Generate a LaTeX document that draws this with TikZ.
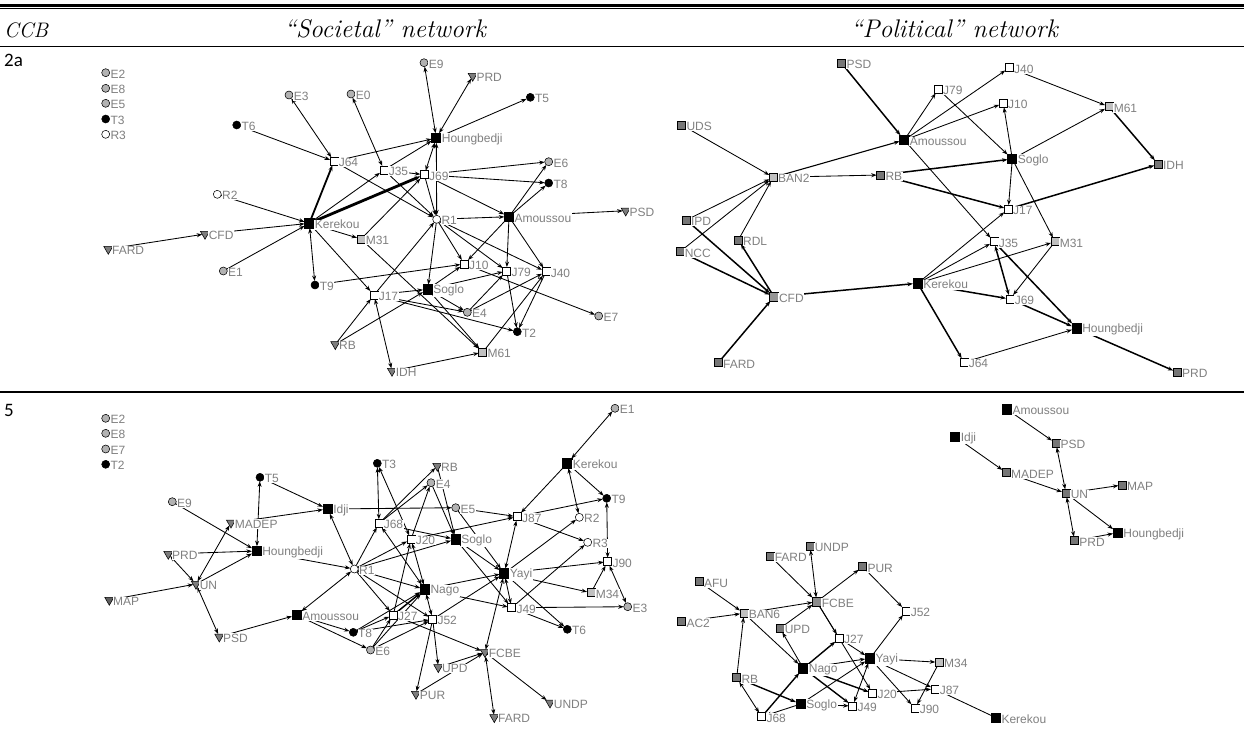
\documentclass[tikz,border=0pt]{standalone}
\usepackage{fontspec}
\newfontfamily\lblfont{Liberation Sans}
\newfontfamily\numfont{Carlito}
\usetikzlibrary{shapes.geometric,arrows.meta}
\pgfdeclarelayer{bg}
\pgfsetlayers{bg,main}
\definecolor{lblgray}{RGB}{128,128,128}
\definecolor{cgray}{RGB}{178,178,178}
\definecolor{tgray}{RGB}{125,125,125}
\definecolor{tdark}{RGB}{95,95,95}
\definecolor{dgray}{RGB}{118,118,118}
\definecolor{lgray}{RGB}{192,192,192}
\definecolor{mgray}{RGB}{150,150,150}
\tikzset{
 lbl/.style={text=lblgray, fill=white, font=\lblfont\fontsize{12}{12}\selectfont, inner sep=0.6pt, yshift=-1.3pt},
 L/.style={label={[lbl]0:#1}},
 nd/.style={draw=black, line width=0.55pt, inner sep=0pt, outer sep=0pt},
 wsq/.style={nd, rectangle, minimum size=8pt, fill=white},
 bsq/.style={nd, rectangle, minimum size=9.5pt, fill=black},
 lsq/.style={nd, rectangle, minimum size=8pt, fill=lgray},
 dsq/.style={nd, rectangle, minimum size=8pt, fill=dgray},
 msq/.style={nd, rectangle, minimum size=8.5pt, fill=mgray},
 gci/.style={nd, circle, minimum size=8pt, fill=cgray},
 bci/.style={nd, circle, minimum size=8pt, fill=black},
 wci/.style={nd, circle, minimum size=8pt, fill=white},
 tri/.style={nd, regular polygon, regular polygon sides=3, shape border rotate=180, minimum size=10.5pt, fill=tgray},
 e/.style={line width=0.85pt, -{Stealth[length=5.5pt,width=4pt]}},
 ee/.style={line width=0.85pt, {Stealth[length=5.5pt,width=4pt]}-{Stealth[length=5.5pt,width=4pt]}},
 pl/.style={line width=0.85pt},
 hdr/.style={inner sep=0pt, anchor=base east, font=\itshape\fontsize{25.5}{30}\selectfont},
 num/.style={inner sep=0pt, anchor=base west, font=\numfont\fontsize{19}{22}\selectfont},
}
\begin{document}
\begin{tikzpicture}[x=1pt,y=-1pt]
\useasboundingbox (0,0) rectangle (1244,737);
\begin{pgfonlayer}{bg}
\fill[white] (0,0) rectangle (1244,737);
\end{pgfonlayer}
% table rules
\fill[black] (0,3.8) rectangle (1244,6.6);
\draw[line width=1.1pt] (0,8.3) -- (1244,8.3);
\draw[line width=1.2pt] (0,46.5) -- (1244,46.5);
\draw[line width=1.6pt] (0,392) -- (1244,392);
% header
\node[inner sep=0pt, anchor=base west, font=\itshape\fontsize{21}{26}\selectfont] (hccb) at (4,37) {CCB};
\node[hdr] (hsoc) at (486,37) {“Societal” network};
\node[hdr] (hpol) at (1058,37) {“Political” network};
\node[num] (r2a) at (4,66) {2a};
\node[num] (r5) at (4,416) {5};

% ===== Panel A : societal 2a =====
\node[gci,L=E2] (aE2) at (105.7,72.7) {};
\node[gci,L=E8] (aE8) at (105.7,88.3) {};
\node[gci,L=E5] (aE5) at (105.7,103.3) {};
\node[bci,L=T3] (aT3) at (105.7,119) {};
\node[wci,L=R3] (aR3) at (105.7,134.3) {};
\node[gci,L=E3] (aE3) at (289,95) {};
\node[gci,L=E0] (aE0) at (351,94) {};
\node[bci,L=T6] (aT6) at (236.7,125) {};
\node[wsq,L=J64] (aJ64) at (334,161.3) {};
\node[wci,L=R2] (aR2) at (217.3,194.3) {};
\node[gci,L=E9] (aE9) at (424,62.7) {};
\node[tri,L=PRD] (aPRD) at (472.7,76) {};
\node[bci,L=T5] (aT5) at (530.3,97.3) {};
\node[bsq,L=Houngbedji] (aHoungbedji) at (436.3,138) {};
\node[gci,L=E6] (aE6) at (548.7,161.7) {};
\node[bci,L=T8] (aT8) at (548.7,183) {};
\node[wsq,L=J35] (aJ35) at (384,170) {};
\node[wsq,L=J69] (aJ69) at (424.3,174.7) {};
\node[bsq,L=Kerekou] (aKerekou) at (309.3,223.3) {};
\node[tri,L=CFD] (aCFD) at (205,234) {};
\node[tri,L=FARD] (aFARD) at (108.3,249) {};
\node[gci,L=E1] (aE1) at (223.3,271) {};
\node[bci,L=T9] (aT9) at (315,285) {};
\node[tri,L=RB] (aRB) at (335.3,344.3) {};
\node[lsq,L=M31] (aM31) at (361,239) {};
\node[wsq,L=J17] (aJ17) at (374,295) {};
\node[wci,L=R1] (aR1) at (436.7,219.3) {};
\node[bsq,L=Amoussou] (aAmoussou) at (509,216.7) {};
\node[tri,L=PSD] (aPSD) at (625.7,210.7) {};
\node[wsq,L=J10] (aJ10) at (464.3,264) {};
\node[wsq,L=J79] (aJ79) at (506.7,271) {};
\node[wsq,L=J40] (aJ40) at (546,271.7) {};
\node[bsq,L=Soglo] (aSoglo) at (427.7,289.3) {};
\node[gci,L=E4] (aE4) at (467.3,312.3) {};
\node[gci,L=E7] (aE7) at (598.7,316) {};
\node[bci,L=T2] (aT2) at (517.3,331.7) {};
\node[lsq,L=M61] (aM61) at (482.7,352.3) {};
\node[tri,L=IDH] (aIDH) at (392,371) {};

\begin{pgfonlayer}{bg}
\foreach \s/\t in {aT6/aJ64, aJ64/aHoungbedji, aJ64/aR1, aR2/aKerekou, aFARD/aCFD, aCFD/aKerekou,
  aE1/aKerekou, aKerekou/aJ35, aKerekou/aM31, aKerekou/aJ17, aJ35/aJ69, aJ35/aHoungbedji, aJ35/aR1,
  aHoungbedji/aT5, aJ69/aE6, aJ69/aT8, aJ69/aR1, aJ69/aAmoussou, aR1/aAmoussou, aAmoussou/aPSD,
  aAmoussou/aE6, aAmoussou/aT8, aAmoussou/aJ79, aAmoussou/aJ40, aAmoussou/aJ10, aR1/aJ10, aR1/aJ79,
  aR1/aJ40, aR1/aSoglo, aJ17/aR1, aM31/aM61, aM31/aJ69, aT9/aJ10, aSoglo/aJ10, aSoglo/aJ79,
  aJ17/aSoglo, aJ17/aE4, aJ17/aT2, aSoglo/aE4, aSoglo/aM61, aRB/aJ17, aRB/aSoglo, aIDH/aM61,
  aE4/aJ79, aE4/aJ40, aJ40/aT2, aJ79/aT2, aM61/aJ40, aJ10/aE7}
  \draw[e] (\s) -- (\t);
\foreach \s/\t in {aJ64/aE3, aE0/aJ35, aKerekou/aT9, aJ69/aHoungbedji, aHoungbedji/aE9,
  aHoungbedji/aPRD, aR1/aHoungbedji, aJ17/aIDH}
  \draw[ee] (\s) -- (\t);
\draw[e, line width=1.8pt] (aKerekou) -- (aJ64);
\draw[e, line width=2.8pt] (aKerekou) -- (aJ69);
\end{pgfonlayer}

% ===== Panel B : political 2a =====
\node[dsq,L=PSD] (bPSD) at (841.7,63.3) {};
\node[dsq,L=UDS] (bUDS) at (681.7,125) {};
\node[bsq,L=Amoussou] (bAmoussou) at (904.3,140) {};
\node[wsq,L=J79] (bJ79) at (938.3,89.3) {};
\node[lsq,L=BAN2] (bBAN2) at (773.3,177.3) {};
\node[dsq,L=RB] (bRB) at (880.7,175) {};
\node[dsq,L=IPD] (bIPD) at (686.3,220) {};
\node[wsq,L=J40] (bJ40) at (1009.3,67.7) {};
\node[wsq,L=J10] (bJ10) at (1003.3,103.3) {};
\node[lsq,L=M61] (bM61) at (1109,106.7) {};
\node[bsq,L=Soglo] (bSoglo) at (1012.3,159) {};
\node[dsq,L=IDH] (bIDH) at (1158.3,164.3) {};
\node[dsq,L=NCC] (bNCC) at (680,251.7) {};
\node[dsq,L=RDL] (bRDL) at (738.3,240) {};
\node[msq,L=CFD] (bCFD) at (774,296.7) {};
\node[dsq,L=FARD] (bFARD) at (718.3,362.7) {};
\node[bsq,L=Kerekou] (bKerekou) at (917.7,283.3) {};
\node[wsq,L=J17] (bJ17) at (1008.3,209) {};
\node[wsq,L=J35] (bJ35) at (994,241.7) {};
\node[lsq,L=M31] (bM31) at (1055,241.7) {};
\node[wsq,L=J69] (bJ69) at (1010,299) {};
\node[bsq,L=Houngbedji] (bHoungbedji) at (1076.7,328.3) {};
\node[wsq,L=J64] (bJ64) at (964,362.3) {};
\node[dsq,L=PRD] (bPRD) at (1177.3,372.3) {};

\begin{pgfonlayer}{bg}
\foreach \s/\t in {bUDS/bBAN2, bBAN2/bRB, bIPD/bBAN2, bNCC/bBAN2, bRDL/bBAN2,
  bAmoussou/bJ79, bAmoussou/bJ40, bAmoussou/bJ10, bAmoussou/bJ35, bJ79/bSoglo,
  bSoglo/bJ10, bSoglo/bM61, bSoglo/bJ17, bSoglo/bM31, bJ40/bM61,
  bKerekou/bJ17, bKerekou/bJ35, bKerekou/bM31, bM31/bJ69, bJ64/bHoungbedji}
  \draw[e] (\s) -- (\t);
\draw[e, line width=1.1pt] (bBAN2) -- (bAmoussou);
\foreach \s/\t in {bPSD/bAmoussou, bIPD/bCFD, bNCC/bCFD, bCFD/bRDL, bFARD/bCFD, bCFD/bKerekou,
  bRB/bSoglo, bRB/bJ17, bM61/bIDH, bJ17/bIDH, bKerekou/bJ69, bKerekou/bJ64,
  bJ35/bHoungbedji, bJ69/bHoungbedji, bHoungbedji/bPRD}
  \draw[e, line width=1.5pt] (\s) -- (\t);
\draw[ee, line width=1.5pt] (bJ35) -- (bJ69);
\end{pgfonlayer}

% ===== Panel C : societal 5 =====
\node[gci,L=E2] (cE2) at (105.7,418.3) {};
\node[gci,L=E8] (cE8) at (105.7,433.3) {};
\node[gci,L=E7] (cE7) at (105.7,449) {};
\node[bci,L=T2] (cT2) at (105.7,464.3) {};
\node[bci,L=T5] (cT5) at (260,477.3) {};
\node[gci,L=E9] (cE9) at (172.3,501.7) {};
\node[bsq,L=Idji] (cIdji) at (327.7,509) {};
\node[tri,L=MADEP] (cMADEP) at (231,522.7) {};
\node[bsq,L=Houngbedji] (cHoungbedji) at (256.7,551) {};
\node[tri,L=PRD] (cPRD) at (168.3,554) {};
\node[tri,L=UN] (cUN) at (196,584) {};
\node[tri,fill=tdark,L=MAP] (cMAP) at (109.3,600) {};
\node[wci,L=R1] (cR1) at (354.3,569) {};
\node[bsq,L=Amoussou] (cAmoussou) at (296.7,615) {};
\node[bci,L=T8] (cT8) at (353.3,632.3) {};
\node[tri,L=PSD] (cPSD) at (219.3,636.7) {};
\node[gci,L=E6] (cE6) at (370.5,650) {};
\node[gci,L=E1] (cE1) at (615,408.3) {};
\node[bci,L=T3] (cT3) at (377.3,463.3) {};
\node[tri,L=RB] (cRB) at (437.3,466) {};
\node[bsq,L=Kerekou] (cKerekou) at (567.3,463.3) {};
\node[gci,L=E4] (cE4) at (431,482.7) {};
\node[bci,L=T9] (cT9) at (606.7,498.3) {};
\node[gci,L=E5] (cE5) at (455.7,507.7) {};
\node[wsq,L=J87] (cJ87) at (517.3,516.7) {};
\node[wci,L=R2] (cR2) at (579.3,517.3) {};
\node[wsq,L=J68] (cJ68) at (379,523.3) {};
\node[wsq,L=J20] (cJ20) at (411,539.3) {};
\node[bsq,L=Soglo] (cSoglo) at (455.7,539.3) {};
\node[wci,L=R3] (cR3) at (587.7,542.3) {};
\node[wsq,L=J90] (cJ90) at (607.7,561.7) {};
\node[bsq,L=Yayi] (cYayi) at (504.3,573.3) {};
\node[bsq,L=Nago] (cNago) at (425,589.3) {};
\node[lsq,L=M34] (cM34) at (591,592.7) {};
\node[gci,L=E3] (cE3) at (627.7,606.7) {};
\node[wsq,L=J49] (cJ49) at (511.7,607.7) {};
\node[bci,L=T6] (cT6) at (567.3,629.3) {};
\node[wsq,L=J27] (cJ27) at (393.3,615) {};
\node[wsq,L=J52] (cJ52) at (432.7,619.3) {};
\node[tri,L=FCBE] (cFCBE) at (485,652.3) {};
\node[tri,L=UPD] (cUPD) at (438.3,667.3) {};
\node[tri,L=UNDP] (cUNDP) at (550,702.7) {};
\node[tri,L=PUR] (cPUR) at (416,694) {};
\node[tri,L=FARD] (cFARD) at (494.3,717.3) {};

\begin{pgfonlayer}{bg}
\foreach \s/\t in {cE9/cHoungbedji, cT5/cIdji, cMADEP/cIdji, cPRD/cHoungbedji, cUN/cHoungbedji,
  cMAP/cUN, cPSD/cAmoussou, cHoungbedji/cR1, cIdji/cE5, cAmoussou/cT8, cAmoussou/cE6,
  cR1/cJ68, cR1/cJ20, cR1/cSoglo, cR1/cNago, cR1/cJ27, cR1/cJ52, cT8/cJ27, cT8/cNago, cT8/cJ52,
  cE6/cJ27, cE6/cNago, cE6/cJ52, cJ68/cRB, cJ68/cE4, cJ68/cSoglo, cJ20/cE4, cJ20/cJ87,
  cE4/cSoglo, cRB/cSoglo, cE5/cJ87, cE5/cYayi, cSoglo/cYayi, cSoglo/cJ49, cKerekou/cJ87,
  cKerekou/cT9, cJ87/cT9, cJ87/cR3, cYayi/cR2, cYayi/cJ90, cYayi/cM34, cYayi/cT6, cNago/cYayi,
  cNago/cJ49, cJ49/cR3, cJ49/cE3, cJ49/cT6, cM34/cJ90, cJ52/cYayi, cJ52/cUPD, cJ52/cPUR,
  cJ27/cFCBE, cUPD/cFCBE, cPUR/cFCBE, cFCBE/cUNDP, cJ27/cJ20}
  \draw[e] (\s) -- (\t);
\foreach \s/\t in {cT5/cHoungbedji, cUN/cMADEP, cUN/cPRD, cUN/cPSD, cIdji/cR1, cR1/cAmoussou,
  cT3/cJ68, cJ20/cT3, cJ68/cNago, cJ20/cNago, cKerekou/cE1, cKerekou/cR2, cT9/cJ90,
  cYayi/cJ87, cYayi/cJ49, cYayi/cFCBE, cJ90/cE3, cJ52/cNago, cFCBE/cFARD}
  \draw[ee] (\s) -- (\t);
\draw[e, line width=1.5pt] (cJ27) -- (cNago);
\end{pgfonlayer}

% ===== Panel D : political 5 =====
\node[bsq,L=Amoussou] (dAmoussou) at (1007,409.3) {};
\node[bsq,L=Idji] (dIdji) at (955.2,436.7) {};
\node[dsq,L=PSD] (dPSD) at (1055.9,443.3) {};
\node[dsq,L=MADEP] (dMADEP) at (1006.3,472.7) {};
\node[dsq,L=UN] (dUN) at (1066,493.3) {};
\node[dsq,L=MAP] (dMAP) at (1122.4,485) {};
\node[bsq,L=Houngbedji] (dHoungbedji) at (1117.8,532.7) {};
\node[dsq,L=PRD] (dPRD) at (1074.6,540.7) {};
\node[dsq,L=UNDP] (dUNDP) at (810,546) {};
\node[dsq,L=FARD] (dFARD) at (770,556) {};
\node[dsq,L=PUR] (dPUR) at (862.7,566.7) {};
\node[dsq,L=AFU] (dAFU) at (699.3,581.7) {};
\node[msq,fill=dgray!85!white,L=FCBE] (dFCBE) at (816.7,601.7) {};
\node[lsq,L=BAN6] (dBAN6) at (744,613.3) {};
\node[dsq,L=AC2] (dAC2) at (681.7,621.7) {};
\node[wsq,L=J52] (dJ52) at (906,611) {};
\node[dsq,L=UPD] (dUPD) at (780,628.3) {};
\node[wsq,L=J27] (dJ27) at (839.3,638.3) {};
\node[bsq,L=Yayi] (dYayi) at (870,658.3) {};
\node[lsq,L=M34] (dM34) at (939.3,662.3) {};
\node[bsq,L=Nago] (dNago) at (803.3,668.3) {};
\node[dsq,L=RB] (dRB) at (736.7,677.7) {};
\node[wsq,L=J87] (dJ87) at (935,689) {};
\node[wsq,L=J20] (dJ20) at (872.7,693.3) {};
\node[bsq,L=Soglo] (dSoglo) at (800.7,704) {};
\node[wsq,L=J49] (dJ49) at (852.7,706) {};
\node[wsq,L=J90] (dJ90) at (915,708.3) {};
\node[wsq,L=J68] (dJ68) at (761.7,716.7) {};
\node[bsq,L=Kerekou] (dKerekou) at (996,717.7) {};

\begin{pgfonlayer}{bg}
\foreach \s/\t in {dAmoussou/dPSD, dIdji/dMADEP, dMADEP/dUN, dUN/dMAP, dUN/dHoungbedji,
  dPRD/dHoungbedji, dFARD/dFCBE, dFCBE/dPUR, dAFU/dBAN6, dAC2/dBAN6, dBAN6/dFCBE, dUPD/dFCBE,
  dNago/dUPD, dBAN6/dNago, dRB/dBAN6, dSoglo/dJ49, dSoglo/dYayi, dPUR/dJ52, dYayi/dJ52,
  dFCBE/dJ27, dFCBE/dJ20, dJ27/dYayi, dNago/dYayi, dYayi/dM34, dYayi/dJ87, dYayi/dJ90,
  dJ20/dJ87, dM34/dJ90, dSoglo/dJ68}
  \draw[e] (\s) -- (\t);
\foreach \s/\t in {dPSD/dUN, dUN/dPRD, dUNDP/dFCBE, dRB/dJ68, dYayi/dJ49}
  \draw[ee] (\s) -- (\t);
\draw[pl] (dJ87) -- (dKerekou);
\foreach \s/\t in {dRB/dSoglo, dJ68/dNago, dNago/dJ27, dNago/dJ20, dNago/dJ49}
  \draw[e, line width=1.4pt] (\s) -- (\t);
\end{pgfonlayer}
\end{tikzpicture}
\end{document}
